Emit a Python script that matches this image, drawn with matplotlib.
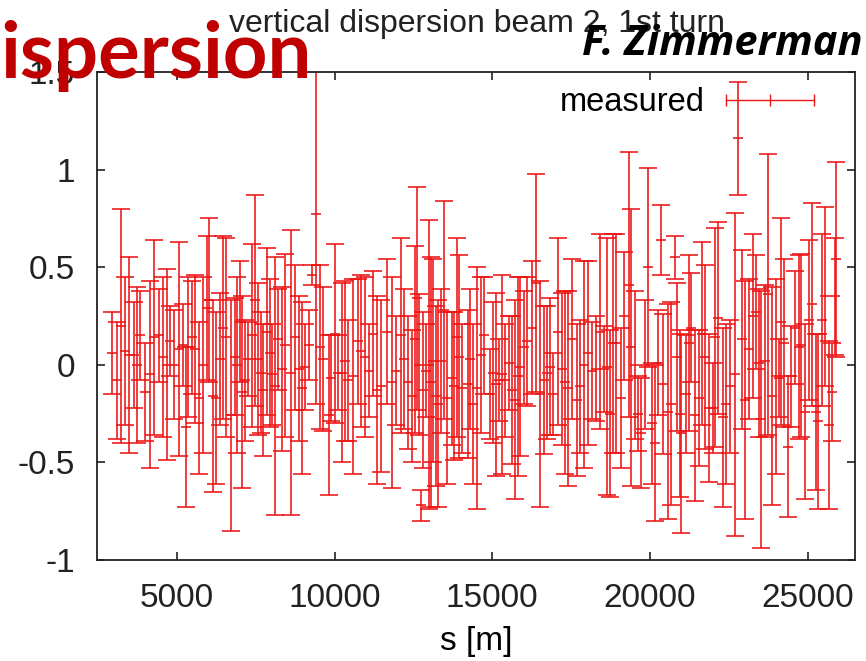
import matplotlib
matplotlib.use("Agg")
import matplotlib.pyplot as plt
from matplotlib.lines import Line2D

# BPM positions along the ring [m]
s_pos = [2940, 3100, 3240, 3360, 3500, 3630, 3730, 3840, 4000, 4160,
         4280, 4420, 4550, 4680, 4770, 4910, 5080, 5190, 5280, 5370,
         5480, 5580, 5690, 5820, 5950, 6030, 6140, 6240, 6370, 6480,
         6570, 6730, 6840, 6920, 6990, 7070, 7170, 7260, 7380, 7490,
         7570, 7660, 7740, 7850, 7940, 8030, 8120, 8210, 8330, 8440,
         8610, 8740, 8860, 8970, 9050, 9180, 9280, 9420, 9530, 9630,
         9810, 9900, 10000, 10110, 10230, 10340, 10440, 10580,
         10730, 10830, 10970, 11080, 11230, 11360, 11470, 11650, 11820, 11960,
         12100, 12210, 12340, 12470, 12550, 12600, 12680, 12750, 12820, 12890,
         13000, 13060, 13120, 13210, 13290, 13360, 13470, 13580, 13710, 13790,
         13870, 13950, 14050, 14220, 14290, 14390, 14530, 14630,
         14750, 14940, 15020, 15130, 15200, 15310, 15410, 15520, 15630, 15730,
         15800, 15890, 15990, 16100, 16260, 16380, 16500, 16630, 16730, 16840,
         16940, 17080, 17210, 17310, 17400, 17520, 17680, 17790, 17910, 18020,
         18150, 18290, 18400, 18530, 18630,
         18730, 18830, 18910, 19070, 19180, 19330, 19410, 19520, 19620, 19730,
         19830, 19940, 20050, 20150, 20260, 20340, 20410, 20570, 20680, 20780,
         20840, 20940, 20990, 21150, 21230, 21310, 21440, 21540, 21650, 21750,
         21860, 22000, 22070, 22170, 22310, 22420, 22520, 22680,
         22800, 22930, 23010, 23140, 23260, 23350, 23450, 23530, 23640, 23750,
         23880, 23980, 24080, 24140, 24250, 24380, 24480, 24610, 24720, 24800,
         24900, 25040, 25120, 25250, 25330, 25440, 25560, 25670, 25770, 25860,
         25900]

# measured vertical dispersion [m]
disp = [0.06, -0.08, 0.20, 0.07, 0.05, 0.05, 0.00, 0.15, -0.14, -0.05,
        0.14, 0.15, 0.04, 0.00, 0.12, 0.00, 0.08, 0.10, -0.32, 0.09,
        0.14, 0.08, -0.17, 0.00, 0.29, 0.33, -0.16, -0.17, 0.03, 0.19,
        0.14, -0.26, 0.04, 0.00, 0.22, -0.14, -0.08, 0.03, 0.15, 0.33,
        0.03, -0.04, -0.13, 0.17, 0.06, -0.05, -0.11, 0.13, -0.02, 0.10,
        -0.04, 0.14, -0.02, -0.12, -0.01, 0.10, 0.46, 0.77, 0.09, 0.03,
        -0.26, -0.07, 0.16, -0.04, -0.04, 0.02, -0.08, -0.06,
        0.12, 0.07, 0.04, -0.03, 0.16, -0.13, -0.11, 0.17, -0.09, -0.03,
        0.15, 0.03, -0.09, -0.16, 0.13, 0.34, 0.00, -0.72, -0.13, -0.03,
        0.00, -0.09, 0.02, -0.16, -0.20, 0.02, 0.28, -0.17, -0.07, -0.11,
        0.14, 0.04, -0.12, -0.10, 0.03, -0.20, -0.12, 0.05,
        0.15, -0.15, -0.04, -0.10, -0.08, -0.05, -0.08, 0.01, -0.13, -0.18,
        -0.06, -0.01, 0.09, 0.12, 0.19, 0.42, -0.15, -0.08, -0.04, -0.01,
        -0.15, 0.17, -0.02, -0.09, -0.12, 0.13, -0.18, -0.11, 0.00, 0.06,
        -0.03, -0.02, 0.17, -0.02, -0.01,
        -0.25, 0.11, 0.11, -0.17, 0.25, 0.41, 0.09, 0.00, -0.25, -0.35,
        0.00, 0.50, -0.30, -0.40, 0.01, 0.64, -0.10, -0.24, -0.20, 0.55,
        0.04, -0.25, -0.35, -0.15, 0.11, 0.19, -0.26, -0.17, 0.16, 0.04,
        -0.22, -0.22, 0.14, 0.24, -0.27, -0.20, -0.11, -0.05,
        1.16, 0.13, -0.18, 0.08, 0.25, 0.27, 0.01, -0.28, 0.02, 0.36,
        -0.16, -0.06, -0.07, 0.22, 0.11, -0.42, -0.06, 0.19, 0.09, 0.10,
        -0.24, 0.23, 0.31, -0.24, -0.29, 0.23, 0.35, -0.31, -0.14, 0.35,
        0.54]

# error bars [m]
err = [0.21, 0.30, 0.60, 0.38, 0.50, 0.27, 0.40, 0.23, 0.25, 0.48,
       0.50, 0.24, 0.41, 0.49, 0.18, 0.28, 0.55, 0.21, 0.41, 0.36,
       0.29, 0.38, 0.39, 0.45, 0.37, 0.42, 0.49, 0.44, 0.34, 0.47,
       0.51, 0.59, 0.30, 0.45, 0.31, 0.49, 0.31, 0.19, 0.47, 0.54,
       0.39, 0.31, 0.34, 0.43, 0.38, 0.26, 0.66, 0.26, 0.42, 0.47,
       0.73, 0.37, 0.37, 0.44, 0.22, 0.18, 0.05, 0.97, 0.42, 0.37,
       0.41, 0.22, 0.46, 0.19, 0.46, 0.41, 0.31, 0.50,
       0.32, 0.39, 0.41, 0.24, 0.32, 0.48, 0.44, 0.37, 0.54, 0.28,
       0.50, 0.36, 0.34, 0.34, 0.48, 0.57, 0.36, 0.08, 0.40, 0.24,
       0.74, 0.64, 0.52, 0.46, 0.53, 0.37, 0.56, 0.44, 0.34, 0.38,
       0.51, 0.52, 0.33, 0.38, 0.36, 0.41, 0.62, 0.40,
       0.30, 0.23, 0.36, 0.47, 0.21, 0.51, 0.29, 0.24, 0.38, 0.51,
       0.51, 0.46, 0.29, 0.33, 0.34, 0.56, 0.58, 0.38, 0.34, 0.35,
       0.21, 0.48, 0.39, 0.47, 0.50, 0.41, 0.39, 0.34, 0.53, 0.47,
       0.25, 0.27, 0.50, 0.22, 0.66,
       0.43, 0.56, 0.56, 0.36, 0.33, 0.68, 0.71, 0.38, 0.19, 0.28,
       0.33, 0.51, 0.31, 0.40, 0.27, 0.18, 0.36, 0.55, 0.52, 0.11,
       0.38, 0.43, 0.51, 0.30, 0.45, 0.28, 0.44, 0.35, 0.47, 0.47,
       0.38, 0.23, 0.56, 0.49, 0.46, 0.41, 0.34, 0.83,
       0.29, 0.46, 0.61, 0.36, 0.42, 0.29, 0.38, 0.66, 0.39, 0.72,
       0.56, 0.50, 0.20, 0.53, 0.43, 0.36, 0.26, 0.29, 0.47, 0.47,
       0.45, 0.41, 0.52, 0.40, 0.45, 0.44, 0.46, 0.43, 0.25, 0.30,
       0.50]

x_ticks = [5000, 10000, 15000, 20000, 25000]
y_ticks = [-1, -0.5, 0, 0.5, 1, 1.5]
y_tick_labels = ["-1", "-0.5", "0", "0.5", "1", "1.5"]

RED = "#ee1414"

plt.rcParams["font.family"] = ["Liberation Sans", "DejaVu Sans"]
plt.rcParams["axes.unicode_minus"] = False

fig = plt.figure(figsize=(8.66, 6.61), dpi=100)
ax = fig.add_axes([0.112, 0.153, 0.875, 0.738])

ax.errorbar(s_pos, disp, yerr=err, fmt="_", color=RED, ecolor=RED,
            elinewidth=1.15, capsize=6.5, capthick=1.15,
            markersize=6.5, markeredgewidth=1.15)

ax.set_xlim(2470, 26490)
ax.set_ylim(-1, 1.5)
ax.set_xticks(x_ticks)
ax.set_yticks(y_ticks)
ax.set_yticklabels(y_tick_labels)
ax.tick_params(direction="in", length=6, width=1.2, top=True, right=True,
               labelsize=24, colors="#222222")
ax.tick_params(axis="x", pad=17)
ax.tick_params(axis="y", pad=16)
for sp in ax.spines.values():
    sp.set_linewidth(1.3)
    sp.set_color("#222222")

ax.set_xlabel("s [m]", fontsize=24, labelpad=8)

key = Line2D([], [], color=RED, lw=1, marker="|", markersize=8, mew=1)
ax.legend([key], ["measured"], loc="upper right", numpoints=3,
          markerfirst=False, frameon=False, fontsize=23.5, handlelength=3.3,
          handletextpad=0.35, bbox_to_anchor=(0.989, 1.016),
          borderaxespad=0.3)

fig.text(0.551, 0.963, "vertical dispersion beam 2, 1st turn",
         ha="center", va="center", fontsize=23, color="#222222")
fig.text(0.0, 0.882, "ispersion", ha="left", va="baseline",
         fontsize=56, fontweight="bold", family="Lato", color="#c00000")
fig.text(0.672, 0.917, "F. Zimmerman", ha="left", va="baseline",
         fontsize=30, fontweight="bold", style="italic", family="Open Sans",
         color="black")

fig.savefig("out.png", dpi=100)
